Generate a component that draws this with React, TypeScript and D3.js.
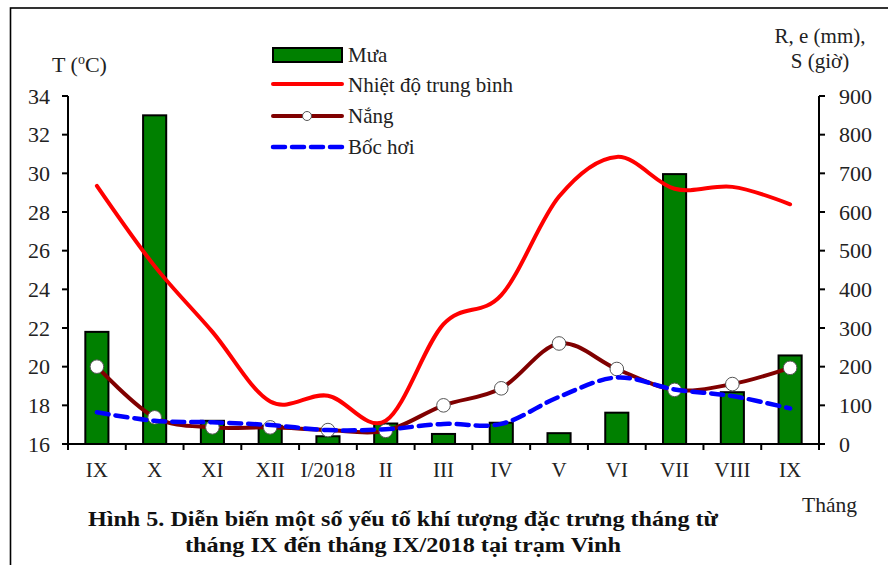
import React from "react";
import * as d3 from "d3";

const categories = ["IX", "X", "XI", "XII", "I/2018", "II", "III", "IV", "V", "VI", "VII", "VIII", "IX"];
const rain = [290, 850, 60, 47, 20, 53, 26, 55, 28, 81, 698, 134, 229];
const temperature = [29.35, 25.2, 21.8, 18.2, 18.5, 17.2, 22.2, 23.7, 28.8, 30.85, 29.2, 29.3, 28.4];
const sunshine = [200, 69, 43, 43, 36, 34, 100, 144, 260, 194, 140, 155, 197];
const evaporation = [82, 60, 56, 49, 36, 38, 52, 52, 122, 172, 141, 124, 92];
const leftTicks = [16, 18, 20, 22, 24, 26, 28, 30, 32, 34];
const rightTicks = [0, 100, 200, 300, 400, 500, 600, 700, 800, 900];

const FONT = "'Liberation Serif', 'Times New Roman', serif";

export default function App() {
  const W = 888, H = 565;
  const left = 68, right = 819, top = 96, bottom = 444;
  const idx = categories.map((_, i) => String(i));
  const x = d3.scaleBand<string>().domain(idx).range([left, right]).padding(0);
  const cx = (i: number) => (x(String(i)) as number) + x.bandwidth() / 2;
  const yL = d3.scaleLinear().domain([16, 34]).range([bottom, top]);
  const yR = d3.scaleLinear().domain([0, 900]).range([bottom, top]);
  const barW = x.bandwidth() * 0.4;
  const curve = d3.curveCardinal.tension(0);

  const tempLine = d3.line<number>().x((_, i) => cx(i)).y((d) => yL(d)).curve(curve);
  const rLine = d3.line<number>().x((_, i) => cx(i)).y((d) => yR(d)).curve(curve);

  const boundaries = d3.range(categories.length + 1).map((i) => left + i * x.bandwidth());

  return (
    <svg width={W} height={H} style={{ position: "absolute", left: 0, top: 0, background: "#fff" }} fontFamily={FONT}>
      <rect x={0} y={0} width={W} height={H} fill="#fff" />
      <rect x={10.5} y={8} width={W + 20} height={H + 20} fill="none" stroke="#000" strokeWidth={1.6} />

      {/* bars */}
      {rain.map((v, i) => (
        <rect key={"b" + i} x={cx(i) - barW / 2} y={yR(v)} width={barW} height={bottom - yR(v)}
          fill="#008000" stroke="#000" strokeWidth={2} />
      ))}

      {/* temperature */}
      <path d={tempLine(temperature) || ""} fill="none" stroke="#ff0000" strokeWidth={4} strokeLinecap="round" />
      {/* sunshine */}
      <path d={rLine(sunshine) || ""} fill="none" stroke="#800000" strokeWidth={4} strokeLinecap="round" />
      {sunshine.map((v, i) => (
        <circle key={"m" + i} cx={cx(i)} cy={yR(v)} r={6.8} fill="#fff" stroke="#555" strokeWidth={1} />
      ))}
      {/* evaporation */}
      <path d={rLine(evaporation) || ""} fill="none" stroke="#0000ff" strokeWidth={4.5} strokeDasharray="12 7" strokeLinecap="round" />

      {/* axes */}
      <line x1={left} x2={left} y1={top} y2={bottom + 6} stroke="#000" strokeWidth={2} />
      <line x1={right} x2={right} y1={top} y2={bottom + 6} stroke="#000" strokeWidth={2} />
      <line x1={left} x2={right} y1={bottom} y2={bottom} stroke="#000" strokeWidth={2} />
      {leftTicks.map((t) => (
        <g key={"lt" + t}>
          <line x1={left - 6} x2={left} y1={yL(t)} y2={yL(t)} stroke="#000" strokeWidth={2} />
          <text x={50} y={yL(t)} dy="0.35em" textAnchor="end" fontSize={22} fill="#222">{t}</text>
        </g>
      ))}
      {rightTicks.map((t) => (
        <g key={"rt" + t}>
          <line x1={right} x2={right + 6} y1={yR(t)} y2={yR(t)} stroke="#000" strokeWidth={2} />
          <text x={839} y={yR(t)} dy="0.35em" textAnchor="start" fontSize={22} fill="#222">{t}</text>
        </g>
      ))}
      {boundaries.map((b, i) => (
        <line key={"xt" + i} x1={b} x2={b} y1={bottom} y2={bottom + 6} stroke="#000" strokeWidth={2} />
      ))}
      {categories.map((c, i) => (
        <text key={"xl" + i} x={cx(i)} y={477} textAnchor="middle" fontSize={21} fill="#222">{c}</text>
      ))}

      {/* axis titles */}
      <text x={52} y={72} fontSize={22} fill="#222">T (<tspan fontSize={14} dy={-8}>o</tspan><tspan dy={8}>C)</tspan></text>
      <text x={820} y={43} textAnchor="middle" fontSize={21} fill="#222">R, e (mm),</text>
      <text x={820} y={68} textAnchor="middle" fontSize={21} fill="#222">S (giờ)</text>
      <text x={802} y={512} fontSize={21.5} fill="#222">Tháng</text>

      {/* legend */}
      <rect x={273} y={48} width={69} height={14} fill="#008000" stroke="#000" strokeWidth={2} />
      <text x={348} y={62} fontSize={21} fill="#222">Mưa</text>
      <line x1={273} x2={342} y1={84} y2={84} stroke="#ff0000" strokeWidth={4} strokeLinecap="round" />
      <text x={348} y={92} fontSize={21} fill="#222">Nhiệt độ trung bình</text>
      <line x1={273} x2={342} y1={116} y2={116} stroke="#800000" strokeWidth={4} strokeLinecap="round" />
      <circle cx={307} cy={116} r={4.5} fill="#fff" stroke="#555" strokeWidth={1} />
      <text x={348} y={123} fontSize={21} fill="#222">Nắng</text>
      <line x1={273} x2={342} y1={147} y2={147} stroke="#0000ff" strokeWidth={4.5} strokeDasharray="12 7" strokeLinecap="round" />
      <text x={348} y={154} fontSize={21} fill="#222">Bốc hơi</text>

      {/* caption */}
      <text x={403} y={526} textAnchor="middle" fontSize={22} fontWeight="bold" fill="#111"
        textLength={630} lengthAdjust="spacingAndGlyphs">Hình 5. Diễn biến một số yếu tố khí tượng đặc trưng tháng từ</text>
      <text x={403} y={552} textAnchor="middle" fontSize={22} fontWeight="bold" fill="#111"
        textLength={436} lengthAdjust="spacingAndGlyphs">tháng IX đến tháng IX/2018 tại trạm Vinh</text>
    </svg>
  );
}
